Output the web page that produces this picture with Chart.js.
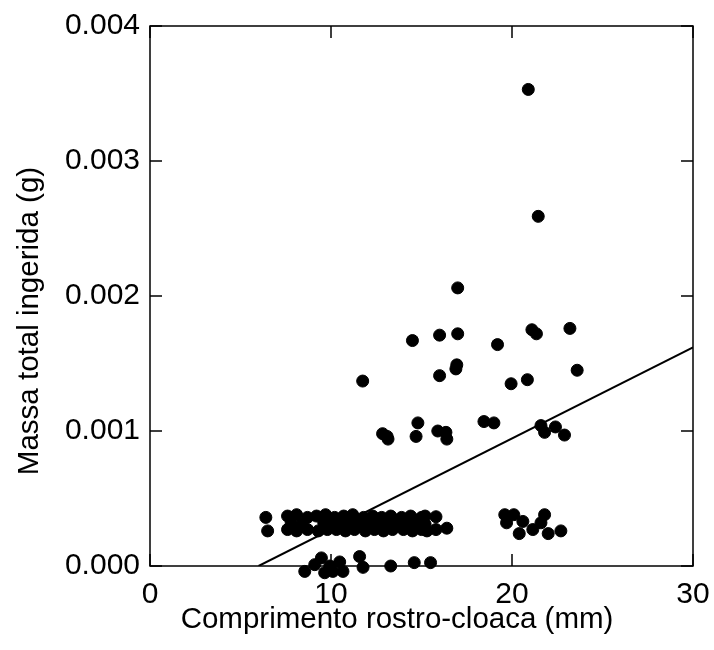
<!DOCTYPE html>
<html>
<head>
<meta charset="utf-8">
<script src="https://cdn.jsdelivr.net/npm/chart.js@4.4.0/dist/chart.umd.min.js"></script>
<style>
  body { margin: 0; background: #fff; }
  #wrap { width: 714px; height: 650px; }
</style>
</head>
<body>
<div id="wrap"><canvas id="massChart" width="714" height="650"></canvas></div>
<script>
// comprimento rostro-cloaca (mm) / massa total ingerida (g)
var scatterX = [
  20.9, 21.45, 17.0, 14.5, 16.0, 17.0, 19.2, 21.1, 21.35, 23.2,
  11.75, 16.0, 16.9, 16.95, 19.95, 20.85, 23.6,
  12.85, 13.1, 13.15, 14.8, 14.7, 15.9, 16.35, 16.4, 18.45, 19.0, 21.6, 21.8, 22.4, 22.9,
  19.6, 20.1, 19.7, 20.6, 20.4, 21.15, 21.8, 21.6, 22.0, 22.7,
  6.4, 6.5, 15.8, 15.8, 16.4,
  7.6, 8.1, 8.7, 9.2, 9.7, 10.2, 10.7, 11.2, 11.8, 12.3, 12.8, 13.3, 13.9, 14.4, 15.0, 15.2,
  7.8, 8.4, 9.6, 10.0, 10.5, 11.0, 11.5, 12.0, 12.6, 13.1, 13.6, 14.2, 14.7, 15.2,
  7.6, 8.1, 8.7, 9.3, 9.8, 10.3, 10.8, 11.3, 11.9, 12.4, 12.9, 13.4, 14.0, 14.5, 15.0, 15.3,
  8.55, 9.0, 9.1, 9.47, 9.65, 9.93, 10.1, 10.48, 10.66, 11.58, 11.77, 13.3, 14.6, 15.5, 17.4
];
var scatterY = [
  0.00353, 0.00259, 0.00206, 0.00167, 0.00171, 0.00172, 0.00164, 0.00175, 0.00172, 0.00176,
  0.00137, 0.00141, 0.00146, 0.00149, 0.00135, 0.00138, 0.00145,
  0.00098, 0.00096, 0.00094, 0.00106, 0.00096, 0.00100, 0.00099, 0.00094, 0.00107, 0.00106, 0.00104, 0.00099, 0.00103, 0.00097,
  0.00038, 0.00038, 0.00032, 0.00033, 0.00024, 0.00027, 0.00038, 0.00032, 0.00024, 0.00026,
  0.00036, 0.00026, 0.000365, 0.00027, 0.00028,
  0.00037, 0.00038, 0.00036, 0.00037, 0.00038, 0.00036, 0.00037, 0.00038, 0.00036, 0.00037, 0.00036, 0.00037, 0.00036, 0.00037, 0.00036, 0.00037,
  0.00032, 0.00031, 0.00032, 0.00031, 0.00032, 0.00031, 0.00032, 0.00031, 0.00032, 0.00031, 0.00032, 0.00031, 0.00032, 0.00031,
  0.00027, 0.00026, 0.00027, 0.00026, 0.00027, 0.00027, 0.00026, 0.00027, 0.00026, 0.00027, 0.00026, 0.00027, 0.00027, 0.00026, 0.00027, 0.00026,
  -0.00004, -0.00007, 0.00001, 0.00006, -0.00005, 0.0, -0.00004, 0.00003, -0.00004, 0.00007, -0.00001, 0.0, 0.000025, 0.000025, -0.00008
];
// linha de regressao
var fitX = [6.0, 30];
var fitY = [0.0, 0.00162];

var xTicks = [0, 10, 20, 30];
var yTicks = [0, 0.001, 0.002, 0.003, 0.004];
var yTickLabels = ['0.000', '0.001', '0.002', '0.003', '0.004'];
var xTitle = 'Comprimento rostro-cloaca (mm)';
var yTitle = 'Massa total ingerida (g)';

var points = [];
for (var i = 0; i < scatterX.length; i++) {
  points.push({x: scatterX[i], y: scatterY[i]});
}
var fit = [];
for (var j = 0; j < fitX.length; j++) {
  fit.push({x: fitX[j], y: fitY[j]});
}

var FONT = "'Liberation Sans', Arial, sans-serif";

// box, inward ticks and axis titles
var boxPlugin = {
  id: 'box',
  afterDraw: function(chart) {
    var ctx = chart.ctx, a = chart.chartArea;
    var xs = chart.scales.x, ys = chart.scales.y;
    ctx.save();
    ctx.strokeStyle = '#000';
    ctx.lineWidth = 1.5;
    ctx.strokeRect(a.left, a.top, a.right - a.left, a.bottom - a.top);
    ctx.beginPath();
    xTicks.forEach(function(v) {
      var px = xs.getPixelForValue(v);
      ctx.moveTo(px, a.bottom); ctx.lineTo(px, a.bottom - 12);
      ctx.moveTo(px, a.top); ctx.lineTo(px, a.top + 12);
    });
    yTicks.forEach(function(v) {
      var py = ys.getPixelForValue(v);
      ctx.moveTo(a.left, py); ctx.lineTo(a.left + 12, py);
      ctx.moveTo(a.right, py); ctx.lineTo(a.right - 12, py);
    });
    ctx.stroke();

    ctx.fillStyle = '#000';
    ctx.font = '29.5px ' + FONT;
    ctx.textAlign = 'center';
    ctx.textBaseline = 'middle';
    ctx.fillText(xTitle, 397, 620);
    ctx.translate(30, 321);
    ctx.rotate(-Math.PI / 2);
    ctx.fillText(yTitle, 0, 0);
    ctx.restore();
  }
};

new Chart(document.getElementById('massChart').getContext('2d'), {
  type: 'scatter',
  data: {
    datasets: [{
      label: 'Massa',
      data: points,
      backgroundColor: '#000',
      borderColor: '#000',
      pointRadius: 6,
      pointHoverRadius: 6,
      clip: false
    }, {
      type: 'line',
      label: 'Regressao',
      data: fit,
      borderColor: '#000',
      borderWidth: 2,
      pointRadius: 0,
      fill: false
    }]
  },
  options: {
    responsive: false,
    animation: false,
    layout: { padding: { left: 0, top: 26, right: 21, bottom: 0 } },
    plugins: { legend: { display: false }, tooltip: { enabled: false } },
    scales: {
      x: {
        type: 'linear',
        min: 0, max: 30,
        afterFit: function(s) { s.height = 84; s.paddingLeft = 0; s.paddingRight = 0; },
        afterBuildTicks: function(s) { s.ticks = xTicks.map(function(v) { return {value: v}; }); },
        grid: { display: false, drawTicks: false },
        border: { display: false },
        ticks: { color: '#000', padding: 11, font: { family: FONT, size: 30 }, maxRotation: 0 }
      },
      y: {
        type: 'linear',
        min: 0, max: 0.004,
        afterFit: function(s) { s.width = 150; s.paddingTop = 0; s.paddingBottom = 0; },
        afterBuildTicks: function(s) { s.ticks = yTicks.map(function(v) { return {value: v}; }); },
        grid: { display: false, drawTicks: false },
        border: { display: false },
        ticks: {
          color: '#000', padding: 10, font: { family: FONT, size: 30 },
          callback: function(v) { return yTickLabels[yTicks.indexOf(v)]; }
        }
      }
    }
  },
  plugins: [boxPlugin]
});
</script>
</body>
</html>
